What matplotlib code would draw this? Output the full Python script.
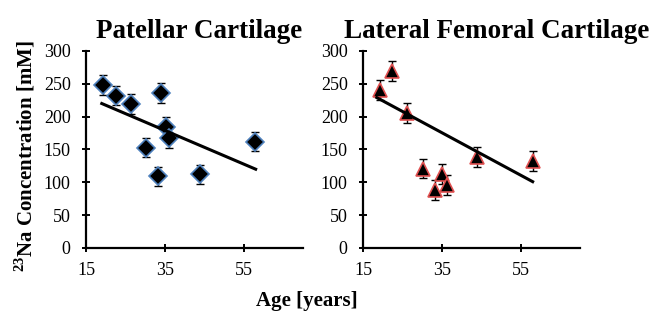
import numpy as np
import matplotlib
matplotlib.use("Agg")
import matplotlib.pyplot as plt

plt.rcParams['font.family'] = ['Liberation Serif', 'DejaVu Serif']
plt.rcParams['mathtext.fontset'] = 'custom'
plt.rcParams['mathtext.rm'] = 'Liberation Serif:bold'
plt.rcParams['mathtext.bf'] = 'Liberation Serif:bold'

# patellar cartilage
pat_age = [19.4, 22.5, 26.4, 30.3, 33.3, 34.1, 35.3, 36.1, 43.9, 57.9]
pat_na = [248, 232, 219, 153, 109, 236, 184, 168, 112, 162]
pat_err = [15, 15, 15, 15, 15, 15, 15, 15, 15, 15]
pat_trend_x = [19, 58]
pat_trend_y = [220, 120]

# lateral femoral cartilage
lat_age = [19.3, 22.4, 26.1, 30.2, 33.2, 35.1, 36.2, 43.9, 58.1]
lat_na = [241, 269, 206, 121, 88, 113, 96, 139, 132]
lat_err = [15, 15, 15, 15, 15, 15, 15, 15, 15]
lat_trend_x = [18.5, 58]
lat_trend_y = [229, 101]

xticks = [15, 35, 55]
yticks = [0, 50, 100, 150, 200, 250, 300]

fig = plt.figure(figsize=(6.6, 3.13), dpi=100)
ax1 = fig.add_axes([0.1303, 0.2077, 0.3288, 0.6294])
ax2 = fig.add_axes([0.55, 0.2077, 0.3288, 0.6294])

def style(ax):
    ax.set_xlim(15, 70)
    ax.set_ylim(0, 300)
    ax.set_xticks(xticks)
    ax.set_yticks(yticks)
    for s in ['top', 'right']:
        ax.spines[s].set_visible(False)
    for s in ['left', 'bottom']:
        ax.spines[s].set_linewidth(1.6)
    ax.tick_params(direction='inout', length=6, width=1.4, labelsize=13)
    ax.tick_params(axis='y', pad=8)
    ax.tick_params(axis='x', pad=7)

ax1.errorbar(pat_age, pat_na, yerr=pat_err, fmt='none', ecolor='black',
             elinewidth=1, capsize=3, capthick=1, zorder=2)
ax1.plot(pat_age, pat_na, 'D', ms=9, mfc='black', mec='#4F81BD', mew=1.2, zorder=3)
ax1.plot(pat_trend_x, pat_trend_y, color='black', lw=2.2, zorder=4)
style(ax1)

ax2.errorbar(lat_age, lat_na, yerr=lat_err, fmt='none', ecolor='black',
             elinewidth=1, capsize=3, capthick=1, zorder=2)
ax2.plot(lat_age, lat_na, '^', ms=10, mfc='black', mec='#E05050', mew=1.2, zorder=3)
ax2.plot(lat_trend_x, lat_trend_y, color='black', lw=2.2, zorder=4)
style(ax2)

fig.text(0.301, 0.90, 'Patellar Cartilage', ha='center', va='center',
         fontsize=19.5, fontweight='bold')
fig.text(0.752, 0.90, 'Lateral Femoral Cartilage', ha='center', va='center',
         fontsize=19.5, fontweight='bold')
fig.text(0.038, 0.50, r'$^{23}$Na Concentration [mM]', rotation=90,
         ha='center', va='center', fontsize=15, fontweight='bold')
fig.text(0.465, 0.038, 'Age [years]', ha='center', va='center',
         fontsize=15, fontweight='bold')

fig.savefig('out.png', dpi=100)
